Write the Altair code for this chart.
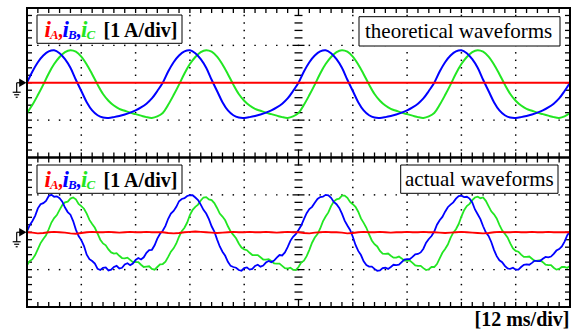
import altair as alt
import pandas as pd

# ---------------- data ----------------
# time axis in divisions (12 ms/div); currents in divisions (1 A/div)
t = [round(0.1 * i, 2) for i in range(101)]      # theoretical + actual iA
t_fine = [round(0.05 * i, 2) for i in range(201)]  # actual iB, iC

theo_iA = [0.0] * 101
theo_iB = [
    0.00, 0.30, 0.55, 0.73, 0.84, 0.87, 0.79, 0.63, 0.40, 0.08, -0.22, -0.52, -0.74, -0.87, -0.93, -0.94, -0.92, -0.89, -0.85, -0.80, -0.74, -0.66, -0.56, -0.42, -0.22,
    0.00, 0.30, 0.55, 0.73, 0.84, 0.87, 0.79, 0.63, 0.40, 0.08, -0.22, -0.52, -0.74, -0.87, -0.93, -0.94, -0.92, -0.89, -0.85, -0.80, -0.74, -0.66, -0.56, -0.42, -0.22,
    0.00, 0.30, 0.55, 0.73, 0.84, 0.87, 0.79, 0.63, 0.40, 0.08, -0.22, -0.52, -0.74, -0.87, -0.93, -0.94, -0.92, -0.89, -0.85, -0.80, -0.74, -0.66, -0.56, -0.42, -0.22,
    0.00, 0.30, 0.55, 0.73, 0.84, 0.87, 0.79, 0.63, 0.40, 0.08, -0.22, -0.52, -0.74, -0.87, -0.93, -0.94, -0.92, -0.89, -0.85, -0.80, -0.74, -0.66, -0.56, -0.42, -0.22,
    0.00]
theo_iC = [
    -0.81, -0.59, -0.33, -0.05, 0.25, 0.50, 0.69, 0.82, 0.87, 0.83, 0.70, 0.49, 0.23, -0.05, -0.30, -0.48, -0.61, -0.70, -0.75, -0.80, -0.84, -0.88, -0.92, -0.94, -0.90,
    -0.81, -0.59, -0.33, -0.05, 0.25, 0.50, 0.69, 0.82, 0.87, 0.83, 0.70, 0.49, 0.23, -0.05, -0.30, -0.48, -0.61, -0.70, -0.75, -0.80, -0.84, -0.88, -0.92, -0.94, -0.90,
    -0.81, -0.59, -0.33, -0.05, 0.25, 0.50, 0.69, 0.82, 0.87, 0.83, 0.70, 0.49, 0.23, -0.05, -0.30, -0.48, -0.61, -0.70, -0.75, -0.80, -0.84, -0.88, -0.92, -0.94, -0.90,
    -0.81, -0.59, -0.33, -0.05, 0.25, 0.50, 0.69, 0.82, 0.87, 0.83, 0.70, 0.49, 0.23, -0.05, -0.30, -0.48, -0.61, -0.70, -0.75, -0.80, -0.84, -0.88, -0.92, -0.94, -0.90,
    -0.81]

act_iA = [
    0.00, -0.01, -0.03, -0.02, 0.00, 0.01, 0.00, -0.01, -0.03, -0.04, -0.02, 0.00, 0.01, 0.00, 0.00, 0.01, 0.00, -0.01, 0.00, 0.01, 0.00, 0.00, 0.01, 0.00, 0.00,
    0.00, -0.02, -0.03, -0.02, 0.00, 0.01, 0.02, 0.01, 0.00, -0.01, -0.02, -0.01, 0.00, 0.01, 0.00, 0.00, 0.01, 0.00, 0.00, 0.01, 0.00, -0.01, 0.00, 0.01, 0.00,
    0.00, -0.02, -0.03, -0.01, 0.00, 0.01, 0.00, 0.00, -0.01, -0.03, -0.02, 0.00, 0.01, 0.00, 0.00, 0.01, 0.00, -0.01, 0.00, 0.00, 0.01, 0.00, 0.00, 0.01, 0.00,
    0.00, -0.01, -0.02, -0.01, 0.00, 0.01, 0.00, -0.01, -0.02, -0.03, -0.02, 0.00, 0.01, 0.00, 0.00, 0.01, 0.00, 0.00, 0.01, 0.00, 0.00, 0.01, 0.00, 0.00, 0.00,
    0.00]
act_iB = [
    0.02, 0.19, 0.30, 0.44, 0.64, 0.75, 0.78, 0.84, 0.97, 1.00, 0.95, 0.96, 0.91, 0.82, 0.66, 0.54, 0.47, 0.30, 0.07, -0.10, -0.21, -0.37, -0.60, -0.72, -0.77,
    -0.84, -0.98, -1.01, -0.95, -0.94, -1.02, -1.00, -0.93, -0.90, -0.97, -0.95, -0.86, -0.83, -0.88, -0.84, -0.74, -0.69, -0.73, -0.67, -0.55, -0.48, -0.47, -0.35, -0.17, -0.04,
    0.04, 0.17, 0.36, 0.50, 0.57, 0.68, 0.83, 0.89, 0.91, 0.97, 0.99, 0.99, 0.93, 0.86, 0.74, 0.60, 0.50, 0.35, 0.16, 0.02, -0.19, -0.38, -0.52, -0.63, -0.79,
    -0.90, -0.93, -0.95, -1.01, -1.03, -0.96, -0.94, -1.00, -0.98, -0.90, -0.87, -0.92, -0.89, -0.81, -0.77, -0.80, -0.76, -0.68, -0.61, -0.62, -0.54, -0.40, -0.23, -0.12, -0.05,
    0.06, 0.18, 0.35, 0.51, 0.62, 0.68, 0.79, 0.89, 0.94, 0.95, 1.00, 0.99, 0.92, 0.81, 0.75, 0.65, 0.50, 0.31, 0.18, 0.06, -0.12, -0.34, -0.50, -0.61, -0.78,
    -0.88, -0.92, -0.92, -0.98, -1.03, -1.02, -0.96, -0.95, -0.98, -0.93, -0.87, -0.88, -0.87, -0.80, -0.73, -0.72, -0.72, -0.66, -0.59, -0.58, -0.54, -0.44, -0.28, -0.18, -0.10,
    0.02, 0.20, 0.32, 0.41, 0.55, 0.67, 0.74, 0.80, 0.90, 0.97, 0.98, 0.94, 0.95, 0.90, 0.80, 0.61, 0.48, 0.35, 0.16, 0.00, -0.10, -0.26, -0.47, -0.64, -0.75,
    -0.80, -0.90, -0.97, -0.98, -0.95, -1.00, -1.00, -0.93, -0.87, -0.86, -0.87, -0.82, -0.76, -0.77, -0.77, -0.71, -0.66, -0.67, -0.65, -0.58, -0.49, -0.45, -0.38, -0.25, -0.08,
    0.02]
act_iC = [
    -0.88, -0.77, -0.72, -0.61, -0.45, -0.29, -0.18, -0.08, 0.08, 0.26, 0.38, 0.46, 0.60, 0.73, 0.80, 0.82, 0.90, 0.93, 0.88, 0.76, 0.70, 0.63, 0.50, 0.33, 0.22,
    0.12, -0.04, -0.20, -0.30, -0.35, -0.46, -0.54, -0.57, -0.56, -0.63, -0.69, -0.70, -0.68, -0.74, -0.80, -0.80, -0.80, -0.87, -0.93, -0.92, -0.91, -0.98, -1.00, -0.93, -0.86,
    -0.85, -0.79, -0.66, -0.52, -0.43, -0.30, -0.12, 0.03, 0.12, 0.26, 0.46, 0.60, 0.68, 0.74, 0.85, 0.93, 0.94, 0.88, 0.86, 0.78, 0.65, 0.50, 0.42, 0.32, 0.16,
    0.02, -0.07, -0.16, -0.30, -0.41, -0.46, -0.48, -0.55, -0.61, -0.61, -0.61, -0.67, -0.73, -0.73, -0.72, -0.77, -0.83, -0.84, -0.84, -0.90, -0.96, -0.97, -0.95, -1.00, -1.01,
    -0.93, -0.81, -0.76, -0.64, -0.47, -0.28, -0.14, -0.05, 0.10, 0.29, 0.42, 0.53, 0.70, 0.82, 0.88, 0.90, 0.98, 0.98, 0.92, 0.81, 0.75, 0.68, 0.55, 0.37, 0.25,
    0.12, -0.06, -0.22, -0.32, -0.38, -0.50, -0.57, -0.58, -0.57, -0.63, -0.68, -0.68, -0.65, -0.70, -0.76, -0.76, -0.76, -0.82, -0.89, -0.90, -0.90, -0.96, -1.01, -0.99, -0.93,
    -0.93, -0.85, -0.70, -0.55, -0.45, -0.33, -0.15, -0.01, 0.08, 0.22, 0.42, 0.59, 0.70, 0.76, 0.86, 0.93, 0.95, 0.91, 0.93, 0.84, 0.70, 0.56, 0.48, 0.37, 0.20,
    0.05, -0.04, -0.14, -0.30, -0.43, -0.50, -0.52, -0.60, -0.66, -0.66, -0.65, -0.71, -0.77, -0.76, -0.75, -0.80, -0.87, -0.88, -0.88, -0.95, -1.00, -0.98, -0.93, -0.93, -0.95,
    -0.90]

series_labels = ["A", "B", "C"]
series_colors = ["#ff0000", "#0000ff", "#22e622"]
panel_titles = ["theoretical waveforms", "actual waveforms"]
y_unit = "[1 A/div]"
x_unit = "[12 ms/div]"

# ---------------- layout ----------------
W, H = 543, 299
PX_X = W / 10.0      # px per horizontal division
PX_Y = H / 8.0       # px per vertical division (two panels x 4 div)
FONT = "Liberation Serif"

xs = alt.Scale(domain=[0, 10], nice=False, zero=False)
ys = alt.Scale(domain=[0, 8], nice=False, zero=False)


def X(f):
    return alt.X(f, type="quantitative", scale=xs, axis=None)


def Y(f):
    return alt.Y(f, type="quantitative", scale=ys, axis=None)


def px_x(px):
    return (px - 27) / PX_X


def py_y(py):
    return (307 - py) / PX_Y


layers = []

# dotted graticule
dots = []
for b in (0, 4):
    for xv in (1, 2, 3, 4, 6, 7, 8, 9):
        for k in range(1, 20):
            dots.append({"x": xv, "y": b + k * 0.2})
    for yv in (b + 1, b + 3):
        for k in range(1, 50):
            dots.append({"x": k * 0.2, "y": yv})
layers.append(alt.Chart(pd.DataFrame(dots)).mark_square(size=2.2, color="black", opacity=1)
              .encode(x=X("x"), y=Y("y")))

# border ticks and centre dashes
segs = []
TLX = 5 / PX_X
TLY = 5 / PX_Y
for b in (0, 4):
    top = b + 4
    for k in range(1, 50):
        xv = k * 0.2
        L = TLY * (1.6 if k == 25 else 1.0)
        segs.append({"x": xv, "y": b, "x2": xv, "y2": b + L})
        segs.append({"x": xv, "y": top, "x2": xv, "y2": top - L})
    for k in range(1, 20):
        yv = b + k * 0.2
        segs.append({"x": 0, "y": yv, "x2": TLX, "y2": yv})
        segs.append({"x": 10, "y": yv, "x2": 10 - TLX, "y2": yv})
        half = (6 if k % 5 == 0 else 4) / PX_X
        segs.append({"x": 5 - half, "y": yv, "x2": 5 + half, "y2": yv})
layers.append(alt.Chart(pd.DataFrame(segs)).mark_rule(color="black", strokeWidth=1.3)
              .encode(x=X("x"), y=Y("y"), x2="x2", y2="y2"))


def line_layer(tt, vals, off, color, interp, sw):
    df = pd.DataFrame({"t": tt, "v": vals})
    return (alt.Chart(df)
            .transform_calculate(yp=f"datum.v + {off}")
            .mark_line(color=color, strokeWidth=sw, interpolate=interp)
            .encode(x=X("t"), y=Y("yp")))


# theoretical (top panel, centre at 6)
layers.append(line_layer(t, theo_iC, 6, series_colors[2], "catmull-rom", 2))
layers.append(line_layer(t, theo_iB, 6, series_colors[1], "catmull-rom", 2))
layers.append(line_layer(t, theo_iA, 6, series_colors[0], "linear", 2))
# actual (bottom panel, centre at 2)
layers.append(line_layer(t_fine, act_iC, 2, series_colors[2], "linear", 1.8))
layers.append(line_layer(t_fine, act_iB, 2, series_colors[1], "linear", 1.8))
layers.append(line_layer(t, act_iA, 2, series_colors[0], "linear", 1.8))

# panel borders
borders = pd.DataFrame([{"x": 0, "x2": 10, "y": 4, "y2": 8},
                        {"x": 0, "x2": 10, "y": 0, "y2": 4}])
layers.append(alt.Chart(borders).mark_rect(fillOpacity=0, stroke="black", strokeWidth=2)
              .encode(x=X("x"), x2="x2", y=Y("y"), y2="y2"))

# label boxes
boxes = []
for off in (0, 150):
    boxes.append({"x": px_x(37), "x2": px_x(182), "y": py_y(15 + off), "y2": py_y(43.3 + off)})
boxes.append({"x": px_x(359), "x2": px_x(560), "y": py_y(16.7), "y2": py_y(46)})
boxes.append({"x": px_x(400.7), "x2": px_x(558), "y": py_y(165), "y2": py_y(193.3)})
layers.append(alt.Chart(pd.DataFrame(boxes)).mark_rect(fill="white", stroke="black", strokeWidth=1)
              .encode(x=X("x"), x2="x2", y=Y("y"), y2="y2"))

# legend text pieces
big, sub, comma = [], [], []
for off in (0, 150):
    xi = [44.5, 62.5, 81.0]
    for j in range(3):
        big.append({"x": px_x(xi[j]), "y": py_y(36.5 + off), "text": "i", "c": series_colors[j]})
        sub.append({"x": px_x(xi[j] + 5.5), "y": py_y(38.5 + off), "text": series_labels[j], "c": series_colors[j]})
        if j < 2:
            comma.append({"x": px_x(xi[j] + 13.5), "y": py_y(36.5 + off), "text": ",", "c": series_colors[j]})


def text_layer(rows, **kw):
    return (alt.Chart(pd.DataFrame(rows))
            .mark_text(font=FONT, baseline="alphabetic", **kw)
            .encode(x=X("x"), y=Y("y"), text="text:N", color=alt.Color("c:N", scale=None)))


layers.append(text_layer(big, align="left", fontSize=23, fontStyle="italic", fontWeight="bold"))
layers.append(text_layer(comma, align="left", fontSize=20, fontWeight="bold"))
layers.append(text_layer(sub, align="left", fontSize=13, fontStyle="italic", fontWeight="bold"))
units = [{"x": px_x(103.5), "y": py_y(36.5 + off), "text": y_unit, "c": "black"} for off in (0, 150)]
layers.append(text_layer(units, align="left", fontSize=20, fontWeight="bold"))
titles = [{"x": px_x(365), "y": py_y(37.5), "text": panel_titles[0], "c": "black"},
          {"x": px_x(405), "y": py_y(186), "text": panel_titles[1], "c": "black"}]
layers.append(text_layer(titles, align="left", fontSize=21))
xunit = [{"x": px_x(569.5), "y": py_y(325.5), "text": x_unit, "c": "black"}]
layers.append(text_layer(xunit, align="right", fontSize=20, fontWeight="bold"))

# ground reference markers
arrows = pd.DataFrame([{"x": px_x(22.8), "y": 6}, {"x": px_x(22.8), "y": 2}])
layers.append(alt.Chart(arrows).mark_point(shape="triangle-right", filled=True, color="black",
                                           size=70, opacity=1)
              .encode(x=X("x"), y=Y("y")))
gsegs = []
for c in (6, 2):
    gsegs.append({"x": px_x(16.7), "y": c, "x2": px_x(20), "y2": c})
    gsegs.append({"x": px_x(16.7), "y": c, "x2": px_x(16.7), "y2": c - 9.5 / PX_Y})
    gsegs.append({"x": px_x(12.7), "y": c - 9.5 / PX_Y, "x2": px_x(20.7), "y2": c - 9.5 / PX_Y})
    gsegs.append({"x": px_x(14.2), "y": c - 12 / PX_Y, "x2": px_x(19.2), "y2": c - 12 / PX_Y})
    gsegs.append({"x": px_x(15.7), "y": c - 14.5 / PX_Y, "x2": px_x(17.7), "y2": c - 14.5 / PX_Y})
layers.append(alt.Chart(pd.DataFrame(gsegs)).mark_rule(color="black", strokeWidth=1.2)
              .encode(x=X("x"), y=Y("y"), x2="x2", y2="y2"))

chart = (alt.layer(*layers)
         .properties(width=W, height=H,
                     padding={"left": 27, "top": 8, "right": 8, "bottom": 28},
                     autosize=alt.AutoSizeParams(type="none"),
                     background="white")
         .configure_view(stroke="transparent"))

chart.save("out.html", embed_options={"renderer": "svg", "actions": False})
